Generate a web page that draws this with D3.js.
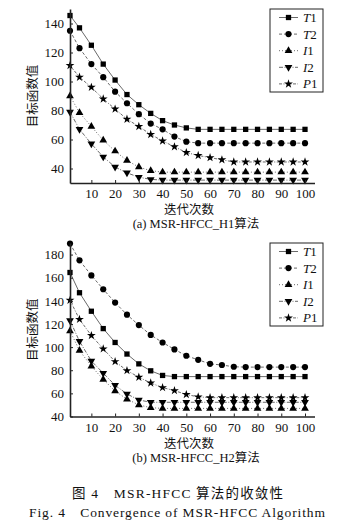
<!DOCTYPE html>
<html><head><meta charset="utf-8">
<script src="https://cdn.jsdelivr.net/npm/d3@7"></script>
<style>
html,body{margin:0;padding:0;background:#fff;}
svg{display:block;}
text{font-family:"Liberation Serif","Noto Sans CJK SC",serif;fill:#111;}
</style></head>
<body>
<svg id="c" width="345" height="531"></svg>
<script>
const iterations = [1,5,10,15,20,25,30,35,40,45,50,55,60,65,70,75,80,85,90,95,100];
const xTicks = [10,20,30,40,50,60,70,80,90,100];
const seriesNames = ["T1","T2","I1","I2","P1"];

// (a) MSR-HFCC_H1
const h1_T1 = [145.5,137,125,112,101,91,84,78,73,70,68,67,67,67,67,67,67,67,67,67,67];
const h1_T2 = [135,123,112,103,93,85,77.5,71,67,62,58.5,57.5,57.5,57.5,57.5,57.5,57.5,57.5,57.5,57.5,57.5];
const h1_I1 = [90,78.5,69,59.5,52,45.5,41,38.5,37.5,37.5,37.5,37.5,37.5,37.5,37.5,37.5,37.5,37.5,37.5,37.5,37.5];
const h1_I2 = [79,67,57,48,41,37,34,32.5,32,32,32,32,32,32,32,32,32,32,32,32,32];
const h1_P1 = [111,103,96,88,81,74,69,63.5,59,55,51,49,47.5,46,44.5,44.5,44.5,44.5,44.5,44.5,44.5];
const h1_yTicks = [40,60,80,100,120,140];

// (b) MSR-HFCC_H2
const h2_T1 = [164.5,147,131,116,104,94,85.5,79.5,75.5,74.5,74.5,74.5,74.5,74.5,74.5,74.5,74.5,74.5,74.5,74.5,74.5];
const h2_T2 = [189.5,175,162,150,138.5,128,119,110.5,104,98,92.5,89,85.5,84.5,83,82.7,82.7,82.7,82.7,82.7,82.7];
const h2_I1 = [114,97,83.5,72,62,55,50,47.6,47,47,47,47,47,47,47,47,47,47,47,47,47];
const h2_I2 = [123,105,88,77.5,67,59.5,54.3,52.3,52.3,52.3,52.3,52.3,52.3,52.3,52.3,52.3,52.3,52.3,52.3,52.3,52.3];
const h2_P1 = [140.5,124,110,98.5,87.5,79.7,74,69,65,62.4,59,57,56.3,56.3,56.3,56.3,56.3,56.3,56.3,56.3,56.3];
const h2_yTicks = [40,60,80,100,120,140,160,180];

const svg = d3.select("#c");
const styles = {
  T1:{dash:null, sym:d3.symbolSquare, size:28, rot:0},
  T2:{dash:"3,2", sym:d3.symbolCircle, size:30, rot:0},
  I1:{dash:"1,2", sym:d3.symbolTriangle, size:26, rot:0},
  I2:{dash:"4,1.5,1,1.5", sym:d3.symbolTriangle, size:26, rot:180},
  P1:{dash:"3,1.5,1,1.5", sym:d3.symbolStar, size:24, rot:0}
};

function panel(cfg){
  const x = d3.scaleLinear().domain([1,104]).range([70,314.5]);
  const y = d3.scaleLinear().domain(cfg.yDomain).range(cfg.yRange);
  const g = svg.append("g");
  const series = {T1:cfg.T1,T2:cfg.T2,I1:cfg.I1,I2:cfg.I2,P1:cfg.P1};
  const line = d3.line().x((d,i)=>x(iterations[i])).y(d=>y(d));
  seriesNames.forEach(n=>{
    const st = styles[n];
    g.append("path").attr("d",line(series[n])).attr("fill","none")
      .attr("stroke","#6a6a6a").attr("stroke-width",1)
      .attr("stroke-dasharray",st.dash);
  });
  seriesNames.forEach(n=>{
    const st = styles[n];
    g.selectAll(null).data(series[n]).enter().append("path")
      .attr("d",d3.symbol().type(st.sym).size(st.size))
      .attr("transform",(d,i)=>`translate(${x(iterations[i])},${y(d)}) rotate(${st.rot})`)
      .attr("fill","#000");
  });
  // axes
  const xa = g.append("g").attr("transform",`translate(0,${cfg.yRange[0]})`)
    .call(d3.axisBottom(x).tickValues(xTicks).tickSize(-3).tickSizeOuter(0).tickPadding(6));
  const ya = g.append("g").attr("transform",`translate(70,0)`)
    .call(d3.axisLeft(y).tickValues(cfg.yTicks).tickSize(-3).tickSizeOuter(0).tickPadding(6));
  [xa,ya].forEach(a=>{
    a.select(".domain").attr("stroke","#222").attr("stroke-width",1.6);
    a.selectAll(".tick line").attr("stroke","#222");
    a.selectAll(".tick text").attr("font-size",13).attr("fill","#111")
      .style("font-family","'Liberation Serif',serif");
  });
  // y title
  const yc = (cfg.yRange[0]+cfg.yRange[1])/2;
  g.append("text").attr("transform",`translate(37,${yc}) rotate(-90)`)
    .attr("text-anchor","middle").attr("font-size",12.5).text("目标函数值");
  g.append("text").attr("x",189).attr("y",cfg.yRange[0]+31).attr("text-anchor","middle")
    .attr("font-size",12.5).text("迭代次数");
  g.append("text").attr("x",196).attr("y",cfg.yRange[0]+45).attr("text-anchor","middle")
    .attr("font-size",12.5).text(cfg.caption);
  // legend
  const L = cfg.legend;
  g.append("rect").attr("x",L.x).attr("y",L.y).attr("width",53).attr("height",83)
    .attr("fill","#fff").attr("stroke","#222").attr("stroke-width",1);
  seriesNames.forEach((n,i)=>{
    const st = styles[n];
    const cy = L.y + 8.5 + i*16.6;
    g.append("line").attr("x1",L.x+9).attr("x2",L.x+28).attr("y1",cy).attr("y2",cy)
      .attr("stroke","#6a6a6a").attr("stroke-dasharray",st.dash);
    g.append("path").attr("d",d3.symbol().type(st.sym).size(st.size))
      .attr("transform",`translate(${L.x+18.5},${cy}) rotate(${st.rot})`).attr("fill","#000");
    const t = g.append("text").attr("x",L.x+33).attr("y",cy+4.5).attr("font-size",13);
    t.append("tspan").attr("font-style","italic").text(n[0]);
    t.append("tspan").text(n.slice(1));
  });
}

panel({T1:h1_T1,T2:h1_T2,I1:h1_I1,I2:h1_I2,P1:h1_P1,yDomain:[30,150],yRange:[183,9],
  yTicks:h1_yTicks,caption:"(a) MSR-HFCC_H1算法",legend:{x:270,y:9}});
panel({T1:h2_T1,T2:h2_T2,I1:h2_I1,I2:h2_I2,P1:h2_P1,yDomain:[40,190],yRange:[416.5,243],
  yTicks:h2_yTicks,caption:"(b) MSR-HFCC_H2算法",legend:{x:270,y:243}});

svg.append("text").attr("x",72).attr("y",498)
  .attr("font-size",13.5).attr("textLength",211).attr("lengthAdjust","spacing")
  .attr("xml:space","preserve").text("图 4　MSR-HFCC 算法的收敛性");
svg.append("text").attr("x",29).attr("y",517)
  .attr("font-size",13.5).attr("textLength",296).attr("lengthAdjust","spacing")
  .attr("xml:space","preserve").text("Fig. 4　Convergence of MSR-HFCC Algorithm");
</script>
</body></html>
